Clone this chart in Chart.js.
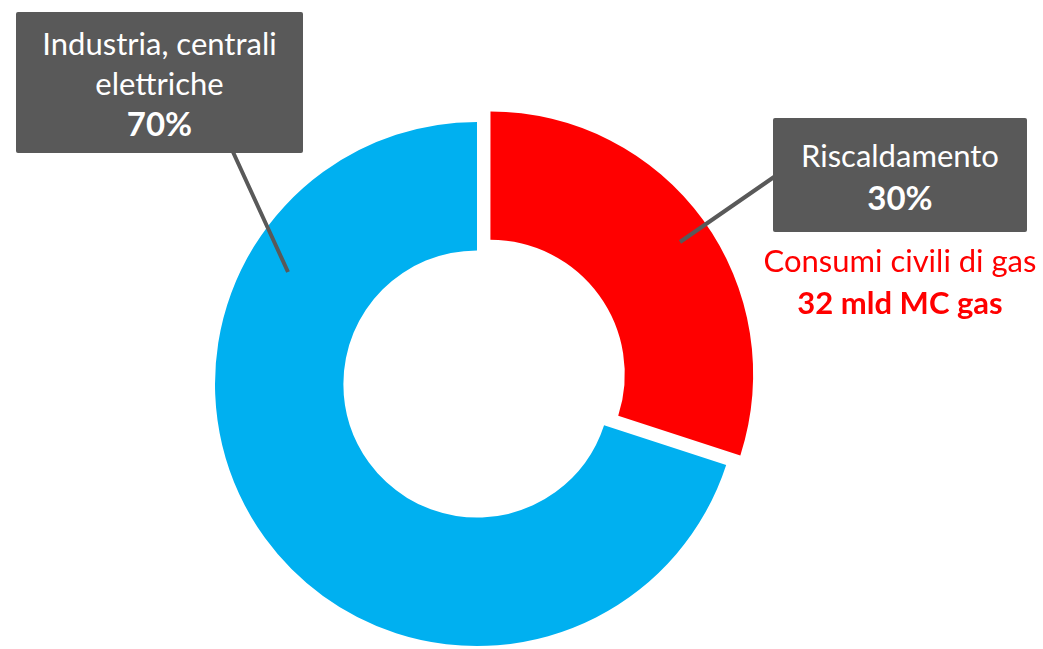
<!DOCTYPE html>
<html>
<head>
<meta charset="utf-8">
<script src="https://cdn.jsdelivr.net/npm/chart.js@4.4.0/dist/chart.umd.min.js"></script>
<style>
  html, body { margin:0; padding:0; background:#fff; overflow:hidden; }
  #wrap { position:relative; width:1043px; height:649px; font-family: Lato, "Open Sans", sans-serif; }
  #c { position:absolute; left:0; top:0; }
  .box { position:absolute; background:#595959; color:#fff; border-radius:2px; text-align:center;
         font-size:31px; box-sizing:border-box; white-space:nowrap; }
  .box b { font-weight:700; font-size:33px; }
  .note { position:absolute; color:#ff0000; text-align:center; font-size:31px; line-height:42px; white-space:nowrap; }
</style>
</head>
<body>
<div id="wrap">
  <canvas id="c" width="1043" height="649"></canvas>
  <div class="box" id="b1" style="left:16px; top:12px; width:287px; height:141px; padding-top:11px; line-height:40px;"></div>
  <div class="box" id="b2" style="left:773px; top:118px; width:254px; height:114px; padding-top:16px; line-height:42px;"></div>
  <div class="note" id="n1" style="left:750px; top:239px; width:300px;"></div>
</div>
<script>
const categories = ["Riscaldamento", "Industria, centrali elettriche"];
const shares = [30, 70];
const colors = ["#FF0000", "#00B0F0"];
const boxLines = [["Riscaldamento"], ["Industria, centrali", "elettriche"]];
const noteLines = ["Consumi civili di gas", "32 mld MC gas"];

function fillBox(el, lines, value) {
  el.innerHTML = lines.map(l => '<div>' + l + '</div>').join('') + '<div><b>' + value + '%</b></div>';
}
fillBox(document.getElementById('b2'), boxLines[0], shares[0]);
fillBox(document.getElementById('b1'), boxLines[1], shares[1]);
document.getElementById('n1').innerHTML = '<div>' + noteLines[0] + '</div><div><b>' + noteLines[1] + '</b></div>';

const leaders = {
  id: 'leaders',
  afterDraw(chart) {
    const ctx = chart.ctx;
    ctx.save();
    ctx.strokeStyle = '#595959';
    ctx.lineWidth = 4;
    ctx.beginPath();
    ctx.moveTo(233, 152); ctx.lineTo(288, 272);
    ctx.moveTo(774, 177); ctx.lineTo(680, 242);
    ctx.stroke();
    ctx.restore();
  }
};

new Chart(document.getElementById('c'), {
  type: 'doughnut',
  data: {
    labels: categories,
    datasets: [{
      data: shares,
      backgroundColor: colors,
      borderWidth: 0,
      offset: [66, 0],
      hoverOffset: 0
    }]
  },
  options: {
    responsive: false,
    animation: false,
    cutout: '51%',
    radius: 262,
    layout: { padding: { left: 0, right: 89, top: 119, bottom: 0 } },
    plugins: { legend: { display: false }, tooltip: { enabled: false } },
    events: []
  },
  plugins: [leaders]
});
</script>
</body>
</html>
